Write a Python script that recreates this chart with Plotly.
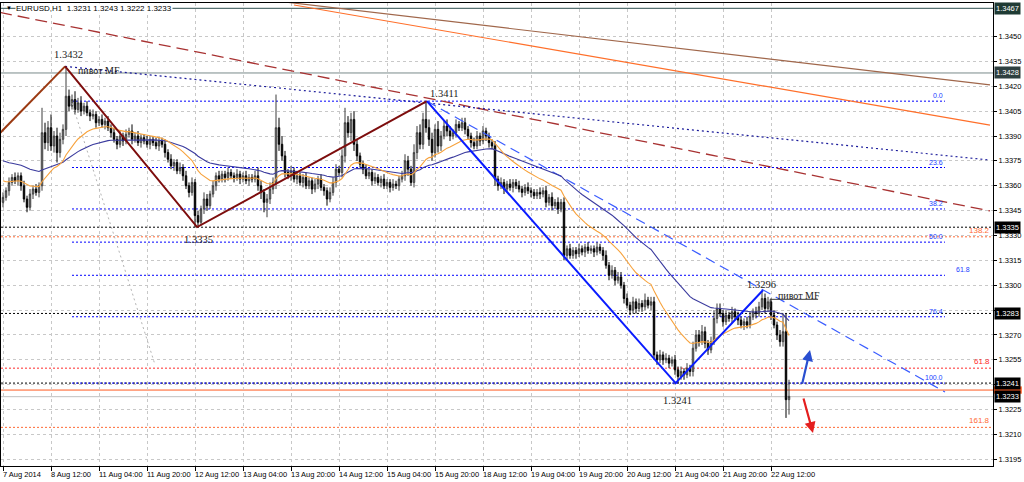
import numpy as np
import plotly.graph_objects as go

# ---------------- data ----------------
title_text = "EURUSD,H1  1.3231 1.3243 1.3222 1.3233"
pip = 0.0001
first_open = 1.3350

close = [
    1.3353, 1.3357, 1.3362, 1.3365, 1.3363, 1.3366, 1.3360, 1.3352, 1.3347, 1.3355,
    1.3358, 1.3356, 1.3360, 1.3392, 1.3386, 1.3395, 1.3384, 1.3390, 1.3380, 1.3388,
    1.3394, 1.3414, 1.3408, 1.3412, 1.3406, 1.3410, 1.3405, 1.3408, 1.3404, 1.3402,
    1.3403, 1.3398, 1.3400, 1.3397, 1.3399, 1.3395, 1.3392, 1.3388, 1.3385, 1.3390,
    1.3387, 1.3391, 1.3393, 1.3388, 1.3390, 1.3386, 1.3389, 1.3387, 1.3385, 1.3388,
    1.3386, 1.3384, 1.3387, 1.3385, 1.3380, 1.3376, 1.3372, 1.3374, 1.3369, 1.3371,
    1.3366, 1.3360, 1.3356, 1.3362, 1.3342, 1.3338, 1.3346, 1.3352, 1.3348, 1.3355,
    1.3360, 1.3366, 1.3364, 1.3367, 1.3365, 1.3368, 1.3366, 1.3365, 1.3367, 1.3364,
    1.3366, 1.3363, 1.3365, 1.3364, 1.3366, 1.3360, 1.3356, 1.3350, 1.3352, 1.3358,
    1.3362, 1.3395, 1.3385, 1.3378, 1.3368, 1.3366, 1.3369, 1.3364, 1.3366, 1.3362,
    1.3365, 1.3360, 1.3363, 1.3358, 1.3361, 1.3364, 1.3359, 1.3357, 1.3352, 1.3356,
    1.3362, 1.3370, 1.3368, 1.3378, 1.3398, 1.3392, 1.3400, 1.3385, 1.3378, 1.3373,
    1.3370, 1.3366, 1.3368, 1.3363, 1.3365, 1.3362, 1.3364, 1.3360, 1.3362, 1.3359,
    1.3361, 1.3360, 1.3364, 1.3366, 1.3375, 1.3370, 1.3362, 1.3380, 1.3392, 1.3385,
    1.3400, 1.3395, 1.3388, 1.3380, 1.3394, 1.3384, 1.3390, 1.3396, 1.3393, 1.3390,
    1.3392, 1.3397, 1.3395, 1.3398, 1.3394, 1.3390, 1.3386, 1.3384, 1.3390, 1.3387,
    1.3393, 1.3390, 1.3386, 1.3384, 1.3364, 1.3360, 1.3362, 1.3358, 1.3361, 1.3359,
    1.3362, 1.3360, 1.3358, 1.3356, 1.3359, 1.3357, 1.3356, 1.3354, 1.3356, 1.3355,
    1.3357, 1.3350, 1.3353, 1.3348, 1.3350, 1.3346, 1.3350, 1.3318, 1.3322, 1.3318,
    1.3321, 1.3319, 1.3322, 1.3320, 1.3323, 1.3321, 1.3322, 1.3320, 1.3323, 1.3321,
    1.3318, 1.3312, 1.3306, 1.3309, 1.3303, 1.3305, 1.3300, 1.3292, 1.3288, 1.3285,
    1.3290, 1.3286, 1.3289, 1.3287, 1.3291, 1.3288, 1.3290, 1.3258, 1.3255, 1.3258,
    1.3255, 1.3256, 1.3253, 1.3255, 1.3249, 1.3245, 1.3248, 1.3246, 1.3250, 1.3248,
    1.3262, 1.3270, 1.3266, 1.3272, 1.3265, 1.3261, 1.3266, 1.3280, 1.3286, 1.3283,
    1.3278, 1.3282, 1.3280, 1.3284, 1.3281, 1.3279, 1.3276, 1.3278, 1.3276, 1.3281,
    1.3284, 1.3283, 1.3287, 1.3292, 1.3286, 1.3290, 1.3282, 1.3276, 1.3270, 1.3266,
    1.3272, 1.3231, 1.3233,
]

wick_up = [
    3, 2, 3, 2, 3, 2, 2, 3, 2, 3,
    2, 3, 2, 15, 6, 4, 8, 3, 5, 4,
    3, 18, 4, 3, 5, 3, 4, 2, 3, 2,
    3, 2, 2, 3, 2, 3, 2, 3, 2, 3,
    2, 3, 2, 4, 2, 3, 2, 2, 3, 2,
    2, 3, 2, 2, 3, 2, 3, 2, 2, 3,
    2, 3, 2, 3, 2, 3, 2, 4, 3, 2,
    3, 2, 3, 2, 2, 3, 2, 2, 3, 2,
    2, 3, 2, 2, 3, 5, 3, 2, 3, 4,
    3, 20, 6, 5, 3, 2, 3, 2, 3, 2,
    2, 3, 2, 2, 3, 2, 3, 2, 2, 3,
    3, 3, 2, 4, 9, 4, 4, 5, 3, 2,
    2, 3, 2, 2, 3, 2, 2, 3, 2, 2,
    3, 2, 2, 3, 4, 3, 2, 5, 4, 5,
    4, 11, 5, 4, 3, 5, 3, 3, 4, 3,
    2, 3, 2, 3, 3, 2, 2, 3, 3, 2,
    3, 2, 2, 2, 3, 2, 3, 2, 2, 3,
    2, 2, 3, 2, 2, 3, 2, 2, 2, 3,
    2, 3, 2, 3, 2, 3, 2, 3, 2, 3,
    2, 2, 3, 2, 2, 3, 2, 2, 3, 2,
    2, 3, 2, 3, 2, 3, 3, 2, 3, 2,
    3, 2, 3, 2, 4, 2, 3, 3, 2, 3,
    2, 3, 2, 2, 3, 2, 3, 2, 3, 2,
    4, 3, 3, 4, 3, 2, 3, 5, 3, 3,
    2, 3, 2, 3, 2, 3, 2, 2, 3, 3,
    2, 3, 3, 4, 3, 3, 2, 3, 2, 3,
    11, 11, 10,
]

wick_down = [
    3, 2, 3, 2, 2, 3, 3, 2, 3, 2,
    3, 2, 3, 3, 4, 5, 3, 4, 6, 3,
    3, 4, 3, 2, 3, 2, 3, 2, 2, 3,
    2, 3, 2, 2, 3, 2, 3, 2, 3, 2,
    3, 2, 2, 3, 2, 2, 3, 2, 2, 3,
    2, 2, 3, 2, 3, 2, 2, 3, 2, 2,
    3, 2, 3, 2, 7, 3, 2, 3, 3, 2,
    2, 3, 2, 2, 3, 2, 2, 3, 2, 3,
    2, 2, 3, 2, 2, 3, 4, 6, 9, 3,
    3, 4, 4, 3, 3, 2, 3, 2, 3, 2,
    3, 2, 2, 3, 2, 3, 2, 3, 4, 2,
    2, 3, 2, 3, 4, 3, 5, 4, 3, 2,
    3, 2, 2, 3, 2, 2, 3, 2, 2, 3,
    2, 2, 3, 2, 3, 4, 2, 3, 4, 3,
    3, 3, 4, 5, 3, 4, 3, 2, 3, 3,
    2, 3, 2, 2, 3, 2, 3, 2, 2, 3,
    2, 3, 3, 2, 4, 3, 2, 3, 2, 2,
    3, 2, 2, 3, 2, 2, 3, 2, 2, 3,
    2, 3, 2, 3, 2, 3, 2, 3, 3, 2,
    2, 3, 2, 2, 3, 2, 2, 3, 2, 2,
    3, 2, 3, 2, 3, 2, 2, 3, 2, 3,
    2, 3, 2, 3, 2, 2, 3, 3, 3, 2,
    3, 2, 3, 2, 3, 4, 2, 3, 2, 3,
    3, 2, 3, 2, 3, 3, 2, 2, 3, 2,
    3, 2, 2, 3, 2, 3, 2, 3, 2, 2,
    2, 3, 2, 2, 3, 2, 3, 2, 3, 3,
    3, 11, 9,
]

x_labels = ["7 Aug 2014", "8 Aug 12:00", "11 Aug 04:00", "11 Aug 20:00", "12 Aug 12:00",
            "13 Aug 04:00", "13 Aug 20:00", "14 Aug 12:00", "15 Aug 04:00", "15 Aug 20:00",
            "18 Aug 12:00", "19 Aug 04:00", "19 Aug 20:00", "20 Aug 12:00", "21 Aug 04:00",
            "21 Aug 20:00", "22 Aug 12:00"]
bars_per_label = 16

# right-scale grid values; labels hidden under the highlighted boxes are blank
price_grid = [1.3450, 1.3435, 1.3420, 1.3405, 1.3390, 1.3375, 1.3360, 1.3345, 1.3330,
              1.3315, 1.3300, 1.3285, 1.3270, 1.3255, 1.3240, 1.3225, 1.3210, 1.3195]
price_labels = ["1.3450", "1.3435", "1.3420", "1.3405", "1.3390", "1.3375", "1.3360",
                "1.3345", "1.3330", "1.3315", "1.3300", "", "1.3270", "1.3255",
                "", "1.3225", "1.3210", "1.3195"]

# highlighted price boxes on the right scale
box_labels = ["1.3467", "1.3428", "1.3335", "1.3283", "1.3241", "1.3233"]
box_prices = [1.3467, 1.3428, 1.3335, 1.3283, 1.3241, 1.32328]
box_colors = ["#1f3b34", "#2f4040", "#000000", "#000000", "#000000", "#000000"]
ask_strip_price = 1.32368

# zigzag swings (bar index, price)
zz_brown_bars = [-1, 20.7, 64.7, 141.3]
zz_brown_prices = [1.33918, 1.3432, 1.33351, 1.3411]
zz_blue_bars = [141.3, 224.2, 253.3]
zz_blue_prices = [1.3411, 1.3241, 1.3297]
swing_texts = ["1.3432", "1.3335", "1.3411", "1.3241", "1.3296"]
swing_bars = [21.7, 65.3, 147.3, 224.7, 252.7]
swing_prices = [1.34389, 1.33273, 1.34156, 1.32308, 1.33007]

pivot_text = "пивот MF"
pivot_bars = [24.3, 257.7]
pivot_prices = [1.34298, 1.32941]
pivot_mark_bars = [255.7, 255.7, 271.7]
pivot_mark_prices = [1.32869, 1.32915, 1.32915]

# full-width horizontal levels
solid_levels = [1.3467, 1.3428]
solid_level_colors = ["#2f4f4f", "#7a8a8a"]
black_dot_levels = [1.3335, 1.3283, 1.3241]
current_levels = [1.32368, 1.32328]

# Fibonacci retracement 1.3411 -> 1.3241
fib_names = ["0.0", "23.6", "38.2", "50.0", "61.8", "76.4", "100.0"]
fib_prices = [1.3411, 1.3371, 1.3346, 1.3326, 1.3306, 1.3281, 1.3241]
fib_label_bars = [314, 314, 314, 314, 323, 314, 314]
fib_start_bar = 23
fib_end_bar = 314

# red/orange extension levels
ext_names = ["138.2", "61.8", "161.8"]
ext_prices = [1.33292, 1.32500, 1.32143]
ext_colors = ["#ff6a33", "#ff2a2a", "#ff6a33"]

# trend lines (bar index pairs, price pairs)
brown_dash_bars = [-1, 329]
brown_dash_prices = [1.34645, 1.33448]
sienna_bars = [94, 329]
sienna_prices = [1.34708, 1.34208]
orange_bars = [97, 329]
orange_prices = [1.34690, 1.33966]
navy_dot_bars = [20.7, 329]
navy_dot_prices = [1.3432, 1.33755]
blue_dash_bars = [141.3, 314]
blue_dash_prices = [1.3411, 1.32356]
gray_dot_bars = [23, 50.7]
gray_dot_prices = [1.34099, 1.32519]

# forecast arrows (tail -> head)
arrow_up = dict(tail=(266.3, 1.32398), head=(269.0, 1.32609))
arrow_down = dict(tail=(266.7, 1.32326), head=(270.0, 1.32109))

# moving averages (EMA periods, seeds)
ema_fast_period, ema_fast_seed = 21, 1.3364
ema_slow_period, ema_slow_seed = 50, 1.3376

# ---------------- derived ----------------
n = len(close)
bars = np.arange(n)
c = np.array(close)
o = np.concatenate([[first_open], c[:-1]])
h = np.maximum(o, c) + np.array(wick_up) * pip
l = np.minimum(o, c) - np.array(wick_down) * pip


def ema(values, period, seed):
    a = 2.0 / (period + 1)
    out = []
    prev = seed
    for v in values:
        prev = a * v + (1 - a) * prev
        out.append(prev)
    return out


ema_fast = ema(c, ema_fast_period, ema_fast_seed)
ema_slow = ema(c, ema_slow_period, ema_slow_seed)

X0, X1 = -0.667, 330.0
Y0, Y1 = 1.31910, 1.34702

AX_FONT = dict(family="Liberation Sans, Arial, sans-serif", size=7.5, color="#000000")
SERIF = "Liberation Serif, Times New Roman, serif"

fig = go.Figure()


def add_line(xs, ys, color, width=1, dash="solid"):
    fig.add_trace(go.Scatter(x=xs, y=ys, mode="lines", hoverinfo="skip",
                             line=dict(color=color, width=width, dash=dash)))


add_line(sienna_bars, sienna_prices, "#a0674b", 1.2)
add_line(orange_bars, orange_prices, "#ff6f2a", 1.2)
add_line(brown_dash_bars, brown_dash_prices, "#a83232", 1.3, "12px,6px")
add_line(navy_dot_bars, navy_dot_prices, "#1a1a9a", 1.2, "2px,3px")
add_line(gray_dot_bars, gray_dot_prices, "#b4b4b4", 1, "2px,3px")

shapes = []
for lv, col in zip(solid_levels, solid_level_colors):
    shapes.append(dict(type="line", xref="paper", x0=0, x1=1, yref="y", y0=lv, y1=lv,
                       line=dict(color=col, width=1), layer="below"))
for lv in black_dot_levels:
    shapes.append(dict(type="line", xref="paper", x0=0, x1=1, yref="y", y0=lv, y1=lv,
                       line=dict(color="#000000", width=1, dash="2px,2px"), layer="below"))
for lv, col in zip(ext_prices, ext_colors):
    shapes.append(dict(type="line", xref="paper", x0=0, x1=1, yref="y", y0=lv, y1=lv,
                       line=dict(color=col, width=1, dash="2px,2px"), layer="below"))
shapes.append(dict(type="line", xref="paper", x0=0, x1=1, yref="y", y0=current_levels[0],
                   y1=current_levels[0], line=dict(color="#ff5a1f", width=1), layer="below"))
shapes.append(dict(type="line", xref="paper", x0=0, x1=1, yref="y", y0=current_levels[1],
                   y1=current_levels[1], line=dict(color="#c0c0c0", width=1), layer="below"))
for lv in fib_prices:
    shapes.append(dict(type="line", xref="x", x0=fib_start_bar, x1=fib_end_bar, yref="y",
                       y0=lv, y1=lv, line=dict(color="#0000ff", width=1, dash="2px,2px"),
                       layer="below"))
shapes.append(dict(type="rect", xref="paper", x0=1.001, x1=1.029, yref="y",
                   y0=ask_strip_price - 0.00022, y1=ask_strip_price + 0.00022,
                   fillcolor="#ff5a1f", line=dict(width=0), layer="above"))

add_line(blue_dash_bars, blue_dash_prices, "#3a5cff", 1.2, "10px,6px")

add_line(list(bars), ema_slow, "#3b3b9e", 1.1)
add_line(list(bars), ema_fast, "#f7a23c", 1.1)

fig.add_trace(go.Candlestick(
    x=bars, open=o, high=h, low=l, close=c, hoverinfo="skip",
    increasing=dict(line=dict(color="#3c3c3c", width=1), fillcolor="#a8a8a8"),
    decreasing=dict(line=dict(color="#000000", width=1), fillcolor="#000000"),
    whiskerwidth=0,
))

fig.add_trace(go.Scatter(x=zz_brown_bars[:2], y=zz_brown_prices[:2], mode="lines",
                         hoverinfo="skip", line=dict(color="#9b3a12", width=2)))
fig.add_trace(go.Scatter(x=zz_brown_bars[1:], y=zz_brown_prices[1:], mode="lines",
                         hoverinfo="skip", line=dict(color="#7d0d0d", width=2)))
fig.add_trace(go.Scatter(x=zz_blue_bars, y=zz_blue_prices, mode="lines",
                         hoverinfo="skip", line=dict(color="#0a1cff", width=2)))
fig.add_trace(go.Scatter(x=pivot_mark_bars, y=pivot_mark_prices, mode="lines",
                         hoverinfo="skip", line=dict(color="#404040", width=1)))

annotations = []
for t, bx, pr in zip(swing_texts, swing_bars, swing_prices):
    annotations.append(dict(x=bx, y=pr, xref="x", yref="y", text=t, showarrow=False,
                            font=dict(family=SERIF, size=10.5, color="#1a1a1a")))
for bx, pr in zip(pivot_bars, pivot_prices):
    annotations.append(dict(x=bx, y=pr, xref="x", yref="y", text=pivot_text, showarrow=False,
                            xanchor="left", font=dict(family=SERIF, size=10, color="#1a1a1a")))

for name, pr, bx in zip(fib_names, fib_prices, fib_label_bars):
    annotations.append(dict(x=bx, y=pr, xref="x", yref="y", text=name,
                            showarrow=False, xanchor="right", yanchor="bottom",
                            font=dict(family="Liberation Sans, Arial", size=7, color="#2040ff")))
for name, pr, col in zip(ext_names, ext_prices, ext_colors):
    annotations.append(dict(x=1, y=pr, xref="paper", yref="y", text=name, xshift=-1,
                            showarrow=False, xanchor="right", yanchor="bottom",
                            font=dict(family="Liberation Sans, Arial", size=8, color=col)))

for arr, col in ((arrow_up, "#2a4fd0"), (arrow_down, "#e41e1e")):
    annotations.append(dict(x=arr["head"][0], y=arr["head"][1], ax=arr["tail"][0],
                            ay=arr["tail"][1], xref="x", yref="y", axref="x", ayref="y",
                            text="", showarrow=True, arrowhead=2, arrowsize=1,
                            arrowwidth=2.2, arrowcolor=col))

for t, pr, col in zip(box_labels, box_prices, box_colors):
    annotations.append(dict(x=1, y=pr, xref="paper", yref="y", text=t, showarrow=False,
                            xanchor="left", xshift=1, bgcolor=col, borderpad=1,
                            font=dict(family="Liberation Sans, Arial", size=7.5,
                                      color="#ffffff")))

for k, t in enumerate(x_labels):
    annotations.append(dict(x=k * bars_per_label, y=0, xref="x", yref="paper", text=t,
                            showarrow=False, xanchor="left", yanchor="top", yshift=-2,
                            xshift=-2, font=AX_FONT))

annotations.append(dict(x=0, y=1.3467, xref="paper", yref="y", text=title_text,
                        showarrow=False, xanchor="left", xshift=14, bgcolor="#ffffff",
                        borderpad=0, font=dict(family="Liberation Sans, Arial", size=8,
                                               color="#000000")))
annotations.append(dict(x=0, y=1.3467, xref="paper", yref="y", text="▼", showarrow=False,
                        xanchor="left", xshift=3, font=dict(size=6, color="#000000")))

fig.update_layout(
    width=1024, height=482,
    margin=dict(l=1, r=31, t=3, b=16),
    paper_bgcolor="#ffffff", plot_bgcolor="#ffffff",
    showlegend=False,
    shapes=shapes,
    annotations=annotations,
    xaxis=dict(range=[X0, X1], showgrid=True, gridcolor="#c8c8c8", griddash="3px,3px",
               gridwidth=1, tickvals=[k * bars_per_label for k in range(len(x_labels))],
               showticklabels=False, ticks="outside", ticklen=4, tickcolor="#000000",
               showline=True, linecolor="#000000", linewidth=1, mirror=True,
               zeroline=False, rangeslider=dict(visible=False), fixedrange=True),
    yaxis=dict(range=[Y0, Y1], side="right", showgrid=True, gridcolor="#c8c8c8",
               griddash="3px,3px", gridwidth=1, tickvals=price_grid, ticktext=price_labels,
               ticks="outside", ticklen=3, tickcolor="#000000", tickfont=AX_FONT,
               showline=True, linecolor="#000000", linewidth=1, mirror=True,
               zeroline=False, fixedrange=True),
)

fig.write_html("out.html", config={"displayModeBar": False},
               post_script="document.body.style.margin='0';")
